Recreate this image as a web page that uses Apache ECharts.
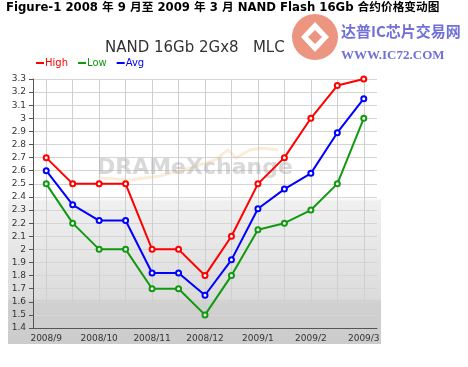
<!DOCTYPE html>
<html><head><meta charset="utf-8">
<script src="https://cdn.jsdelivr.net/npm/echarts@6/dist/echarts.min.js"></script>
<style>html,body{margin:0;padding:0;background:#fff}#c{width:468px;height:367px}</style>
</head><body><div id="c"></div>
<script>
var categories = ['2008/9','','2008/10','','2008/11','','2008/12','','2009/1','','2009/2','','2009/3'];
var highData = [2.7, 2.5, 2.5, 2.5, 2.0, 2.0, 1.8, 2.1, 2.5, 2.7, 3.0, 3.25, 3.3];
var lowData  = [2.5, 2.2, 2.0, 2.0, 1.7, 1.7, 1.5, 1.8, 2.15, 2.2, 2.3, 2.5, 3.0];
var avgData  = [2.6, 2.34, 2.22, 2.22, 1.82, 1.82, 1.65, 1.92, 2.31, 2.46, 2.58, 2.89, 3.15];
var seriesNames = ['High','Low','Avg'];
var seriesColors = ['#ff0000','#119911','#0000ff'];

var chart = echarts.init(document.getElementById('c'), null, {renderer:'canvas'});
var font = 'DejaVu Sans, Verdana, sans-serif';
function mk(name, data, color){
  return {name:name, type:'line', data:data, symbol:'emptyCircle', symbolSize:5,
    lineStyle:{color:color, width:2}, itemStyle:{color:color, borderWidth:1.5},
    emphasis:{disabled:true}, z:5};
}
chart.setOption({
  animation:false,
  graphic:[
    {type:'rect', z:-10, shape:{x:8,y:40,width:373,height:304},
      style:{fill:new echarts.graphic.LinearGradient(0,0,0,1,[
        {offset:0,color:'#ffffff'},{offset:0.52,color:'#ffffff'},
        {offset:0.53,color:'#f0f0f0'},{offset:0.85,color:'#dcdcdc'},
        {offset:0.86,color:'#d0d0d0'},{offset:1,color:'#cccccc'}])}},
    {type:'text', left:6, top:2, style:{text:'Figure-1 2008 年 9 月至 2009 年 3 月 NAND Flash 16Gb 合约价格变动图',
      font:'bold 11.7px "DejaVu Sans", "Noto Sans CJK SC", sans-serif', fill:'#000'}},
    {type:'polyline', z:1, shape:{points:[[100,178],[130,180],[160,176],[190,168],[215,160],[228,150],[236,158],[250,150],[262,148],[278,150]]},
      style:{stroke:'rgba(235,190,120,0.28)', lineWidth:3, fill:null}},
    {type:'text', z:1, left:97, top:157, style:{text:'DRAMeXchange', font:'bold 22px "DejaVu Sans", sans-serif', fill:'rgba(160,160,160,0.4)'}},
    {type:'circle', z:20, shape:{cx:315,cy:37,r:23}, style:{fill:'#ec9580'}},
    {type:'polygon', z:21, shape:{points:[[315,22],[329,37],[315,52],[301,37]]}, style:{fill:'#ffffff'}},
    {type:'polygon', z:22, shape:{points:[[315,30],[322,37],[315,44],[308,37]]}, style:{fill:'#ec9580'}},
    {type:'text', z:20, left:341, top:24, style:{text:'达普IC芯片交易网', font:'bold 15px "Noto Sans CJK SC", sans-serif', fill:'#7070d8'}},
    {type:'text', z:20, left:341, top:49, style:{text:'WWW.IC72.COM', font:'bold 13px "Liberation Serif", serif', fill:'#7070d8'}}
  ],
  title:{text:'NAND 16Gb 2Gx8   MLC', left:100, top:36,
    textStyle:{fontFamily:font, fontSize:15, fontWeight:'normal', color:'#333'}},
  legend:{left:31, top:53, itemWidth:8, itemHeight:2, itemGap:10, icon:'rect',
    data:seriesNames.map(function(n,i){return {name:n, textStyle:{color:seriesColors[i]}};}),
    textStyle:{fontFamily:font, fontSize:10, padding:[0,0,0,-4]}},
  grid:{left:33, right:91, top:79, bottom:39},
  xAxis:{type:'category', data:categories, boundaryGap:true,
    axisLine:{lineStyle:{color:'#555', width:1}},
    axisTick:{alignWithLabel:true, length:4, lineStyle:{color:'#555'}, interval:0},
    axisLabel:{interval:0, fontFamily:font, fontSize:9, color:'#333', margin:6},
    splitLine:{show:true, alignWithLabel:true, interval:0, lineStyle:{color:'#cfcfcf', width:1}}},
  yAxis:{type:'value', min:1.4, max:3.3, interval:0.1,
    axisLine:{show:true, lineStyle:{color:'#555', width:1}},
    axisTick:{show:true, length:4, lineStyle:{color:'#555'}},
    axisLabel:{fontFamily:font, fontSize:9, color:'#333', margin:7},
    splitLine:{show:true, lineStyle:{color:'#d5d5d5', width:1}}},
  series:[mk('High',highData,seriesColors[0]), mk('Low',lowData,seriesColors[1]), mk('Avg',avgData,seriesColors[2])]
});
</script></body></html>
